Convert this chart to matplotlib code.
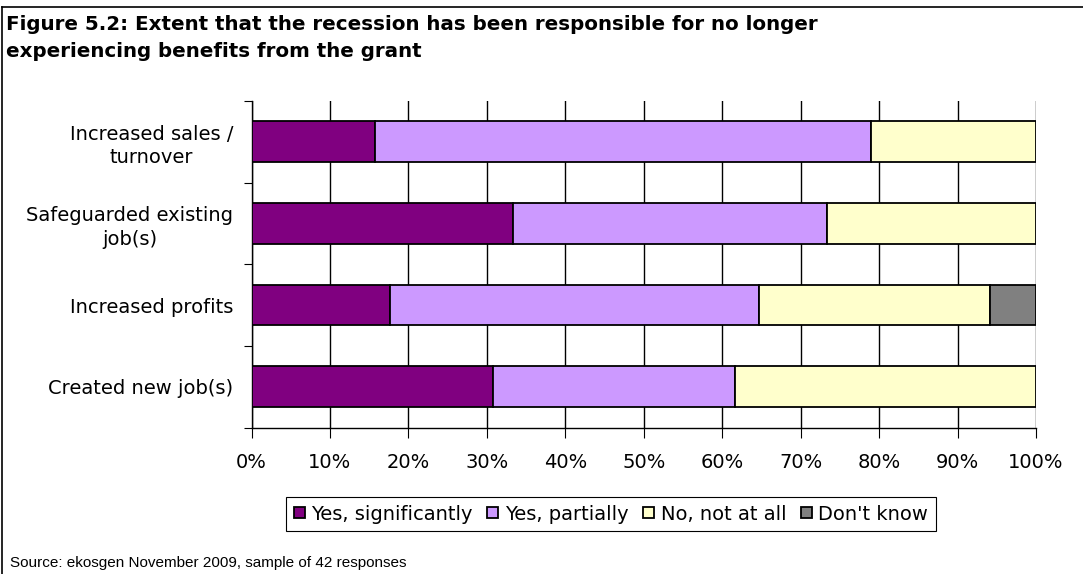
import matplotlib
matplotlib.use("Agg")
import matplotlib.pyplot as plt
from matplotlib.lines import Line2D
from matplotlib.ticker import MultipleLocator, FuncFormatter
import numpy as np

categories = ["Increased sales /\nturnover", "Safeguarded existing\njob(s)",
              "Increased profits", "Created new job(s)"]
series_names = ["Yes, significantly", "Yes, partially", "No, not at all", "Don't know"]
yes_sig = [15.8, 33.3, 17.6, 30.8]
yes_part = [63.2, 40.0, 47.1, 30.8]
no_not = [21.0, 26.7, 29.4, 38.4]
dont_know = [0.0, 0.0, 5.9, 0.0]
colors = ["#800080", "#CC99FF", "#FFFFCC", "#808080"]

plt.rcParams['font.family'] = ['DejaVu Sans']
W, H = 1083, 574
fig = plt.figure(figsize=(W / 100, H / 100), dpi=100)
ax = fig.add_axes([251.5 / W, 1 - 427.5 / H, (1036 - 251.5) / W, (427.5 - 101) / H])

y = np.arange(len(categories))
left = np.zeros(len(categories))
handles = []
for vals, name, c in zip([yes_sig, yes_part, no_not, dont_know], series_names, colors):
    vals = np.array(vals)
    mask = vals > 0
    b = ax.barh(y[mask], vals[mask], left=left[mask], height=0.5, color=c,
                edgecolor="black", linewidth=1.3, zorder=3, label=name)
    handles.append(b)
    left = left + vals

ax.set_xlim(0, 100)
ax.set_ylim(len(categories) - 0.5, -0.5)
ax.xaxis.set_major_locator(MultipleLocator(10))
ax.xaxis.set_major_formatter(FuncFormatter(lambda v, p: f"{int(v)}%"))
ax.set_yticks(np.arange(-0.5, len(categories), 1.0))
ax.set_yticklabels([])
ax.set_yticks(y, minor=True)
ax.set_yticklabels(categories, minor=True, ha="right", multialignment="center",
                   fontsize=14, linespacing=1.3)
ax.tick_params(axis="y", which="minor", length=0, pad=13)
ax.tick_params(axis="y", which="major", length=6, direction="out", color="black")
ax.tick_params(axis="x", length=7, direction="out", labelsize=14, pad=11)
ax.grid(axis="x", color="black", linewidth=1, zorder=0)
for s in ["top", "right"]:
    ax.spines[s].set_visible(False)
for s in ["left", "bottom"]:
    ax.spines[s].set_color("black")
    ax.spines[s].set_linewidth(1)

leg = fig.legend(handles=handles, labels=series_names, loc="center",
                 bbox_to_anchor=(611 / W, 1 - 514 / H), ncol=4, fontsize=14,
                 frameon=True, fancybox=False, edgecolor="black", handlelength=0.55,
                 handleheight=0.55, handletextpad=0.35, columnspacing=0.75,
                 borderpad=0.4, framealpha=1)
leg.get_frame().set_linewidth(0.8)

fig.text(6 / W, 1 - 30 / H, "Figure 5.2: Extent that the recession has been responsible for no longer",
         fontsize=14.3, fontweight="bold", va="baseline", ha="left")
fig.text(6 / W, 1 - 57 / H, "experiencing benefits from the grant",
         fontsize=14.3, fontweight="bold", va="baseline", ha="left")
fig.text(10 / W, 1 - 567 / H, "Source: ekosgen November 2009, sample of 42 responses",
         fontsize=11, family="Liberation Sans", va="baseline", ha="left")

fig.add_artist(Line2D([2 / W, 1], [1 - 7 / H, 1 - 7 / H], color="black", linewidth=1.2))
fig.add_artist(Line2D([2 / W, 2 / W], [0, 1 - 7 / H], color="black", linewidth=1.2))

fig.savefig("out.png", dpi=100)
